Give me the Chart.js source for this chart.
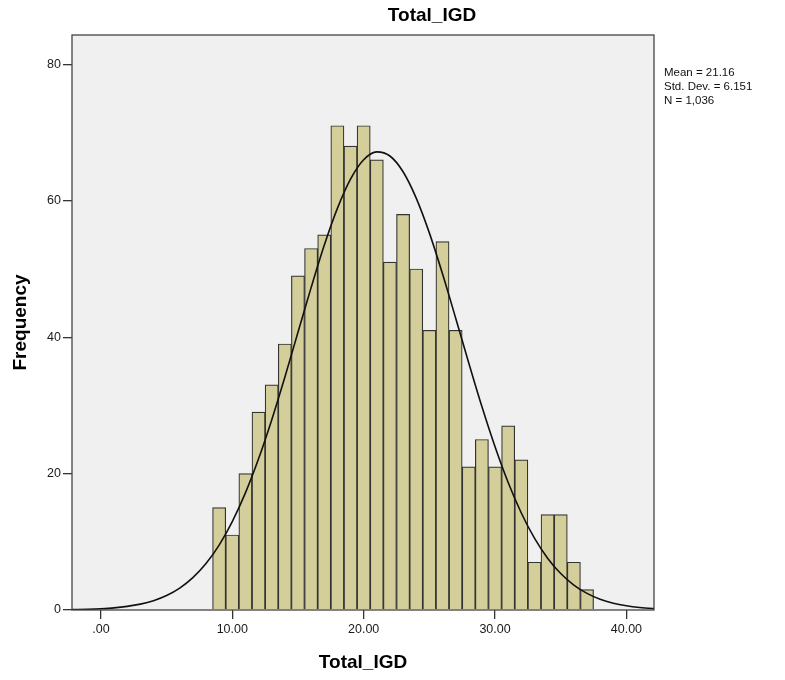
<!DOCTYPE html>
<html>
<head>
<meta charset="utf-8">
<script src="https://cdn.jsdelivr.net/npm/chart.js@4/dist/chart.umd.min.js"></script>
<style>
  html, body { margin: 0; padding: 0; background: #ffffff; }
  #wrap { width: 785px; height: 680px; }
</style>
</head>
<body>
<div id="wrap"><canvas id="c" width="785" height="680"></canvas></div>
<script>
// ---- data ----
const binCenters = [9,10,11,12,13,14,15,16,17,18,19,20,21,22,23,24,25,26,27,28,29,30,31,32,33,34,35,36,37];
const frequencies = [15,11,20,29,33,39,49,53,55,71,68,71,66,51,58,50,41,54,41,21,25,21,27,22,7,14,14,7,3];
const curveX = [-3,-2,-1,0,1,2,3,4,5,6,7,8,9,10,11,12,13,14,15,16,17,18,19,20,21,22,23,24,25,26,27,28,29,30,31,32,33,34,35,36,37,38,39,40,41,42,43];
const curveY = [0.03,0.06,0.10,0.18,0.31,0.53,0.86,1.37,2.13,3.22,4.75,6.81,9.52,12.96,17.17,22.17,27.87,34.13,40.71,47.26,53.46,58.88,63.17,66.01,67.17,66.56,64.25,60.39,55.29,49.30,42.82,36.22,29.82,23.93,18.69,14.22,10.53,7.60,5.35,3.66,2.44,1.58,1.00,0.62,0.37,0.22,0.12];
const yTicks = [0,20,40,60,80];
const xTicks = [0,10,20,30,40];
const xTickLabels = ['.00','10.00','20.00','30.00','40.00'];
const chartTitle = 'Total_IGD';
const xAxisTitle = 'Total_IGD';
const yAxisTitle = 'Frequency';
const statsLines = ['Mean = 21.16','Std. Dev. = 6.151','N = 1,036'];

const FONT = 'Arial, "Liberation Sans", sans-serif';

const framePlugin = {
  id: 'frame',
  beforeDraw(chart) {
    const {ctx, chartArea: a} = chart;
    ctx.save();
    ctx.fillStyle = '#f0f0f0';
    ctx.fillRect(a.left, a.top, a.right - a.left, a.bottom - a.top);
    ctx.restore();
  },
  afterDraw(chart) {
    const {ctx, chartArea: a} = chart;
    ctx.save();
    ctx.strokeStyle = '#444444';
    ctx.lineWidth = 1.3;
    ctx.strokeRect(a.left, a.top, a.right - a.left, a.bottom - a.top);
    // chart title
    ctx.fillStyle = '#000000';
    ctx.font = 'bold 19px ' + FONT;
    ctx.textAlign = 'center';
    ctx.textBaseline = 'middle';
    ctx.fillText(chartTitle, 432, 16);
    // statistics box text
    ctx.font = '11.5px ' + FONT;
    ctx.textAlign = 'left';
    ctx.fillStyle = '#111111';
    statsLines.forEach((t, i) => ctx.fillText(t, a.right + 10, 73 + i * 14));
    ctx.restore();
  }
};

new Chart(document.getElementById('c'), {
  type: 'bar',
  data: {
    datasets: [
      {
        type: 'line',
        data: curveX.map((x, i) => ({x: x, y: curveY[i]})),
        borderColor: '#111111',
        borderWidth: 1.6,
        pointRadius: 0,
        fill: false,
        cubicInterpolationMode: 'monotone',
        order: 0
      },
      {
        type: 'bar',
        data: binCenters.map((x, i) => ({x: x, y: frequencies[i]})),
        backgroundColor: '#d3ce9a',
        borderColor: '#333333',
        borderWidth: 1.2,
        barPercentage: 1,
        categoryPercentage: 1,
        order: 1
      }
    ]
  },
  options: {
    responsive: false,
    animation: false,
    layout: { padding: { top: 35, right: 131, left: 0, bottom: 0 } },
    plugins: { legend: { display: false }, tooltip: { enabled: false }, title: { display: false } },
    scales: {
      x: {
        type: 'linear',
        offset: false,
        min: -2.2,
        max: 42.1,
        afterBuildTicks(scale) { scale.ticks = xTicks.map(v => ({value: v})); },
        afterFit(scale) { scale.height = 70; },
        ticks: {
          callback: (v) => xTickLabels[xTicks.indexOf(v)],
          color: '#1a1a1a',
          font: { family: FONT, size: 12.5 },
          padding: 3,
          maxRotation: 0,
          autoSkip: false
        },
        grid: { display: true, offset: false, drawOnChartArea: false, drawTicks: true, tickLength: 9, color: '#333333', lineWidth: 1.3 },
        border: { display: false },
        title: { display: true, text: xAxisTitle, color: '#000000', font: { family: FONT, size: 19, weight: 'bold' }, padding: { top: 0, bottom: 6 } }
      },
      y: {
        type: 'linear',
        min: 0,
        max: 84.3,
        afterBuildTicks(scale) { scale.ticks = yTicks.map(v => ({value: v})); },
        afterFit(scale) { scale.width = 72; },
        ticks: {
          color: '#1a1a1a',
          font: { family: FONT, size: 12.5 },
          padding: 2
        },
        grid: { display: true, offset: false, drawOnChartArea: false, drawTicks: true, tickLength: 9, color: '#333333', lineWidth: 1.3 },
        border: { display: false },
        title: { display: true, text: yAxisTitle, color: '#000000', font: { family: FONT, size: 19, weight: 'bold' }, padding: { top: 9, bottom: 0 } }
      }
    }
  },
  plugins: [framePlugin]
});
</script>
</body>
</html>
